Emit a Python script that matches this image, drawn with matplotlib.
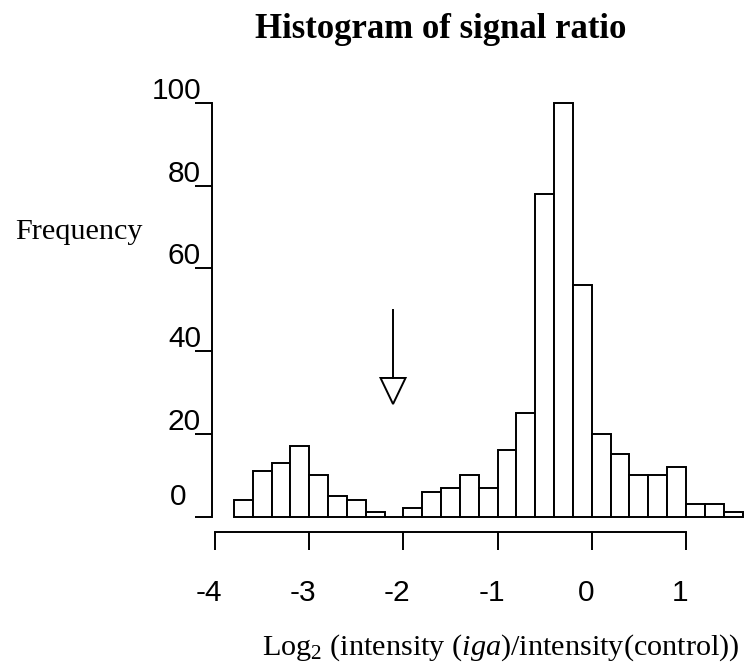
import numpy as np
import matplotlib
matplotlib.use("Agg")
import matplotlib.pyplot as plt

plt.rcParams['mathtext.fontset'] = 'custom'
plt.rcParams['mathtext.rm'] = 'Liberation Serif'
plt.rcParams['mathtext.it'] = 'Liberation Serif:italic'

# ---- data ----
bin_start = -3.8
bin_width = 0.2
counts = [4, 11, 13, 17, 10, 5, 4, 1, 0, 2, 6, 7, 10, 7, 16, 25, 78, 100, 56,
          20, 15, 10, 10, 12, 3, 3, 1]
x_ticks = [-4, -3, -2, -1, 0, 1]
y_ticks = [0, 20, 40, 60, 80, 100]
arrow_x = -2.11
arrow_top = 50
arrow_base = 33.5
arrow_tip = 27.2
title = "Histogram of signal ratio"
ylabel = "Frequency"
xlabel = r"Log$_2$ (intensity ($\mathit{iga}$)/intensity(control))"

edges = bin_start + bin_width * np.arange(len(counts) + 1)

W, H = 750, 670
fig = plt.figure(figsize=(W / 100, H / 100), dpi=100)

# pixel mapping
sx = 94.2      # px per x unit
x0px = 215     # px of x=-4
sy = 4.135     # px per count
y0px = 516.5   # px of y=0
xlim = (-4.2, 1.68)
ylim = (-12, 104)
left_px = x0px + (xlim[0] + 4) * sx
right_px = x0px + (xlim[1] + 4) * sx
bot_px = y0px - ylim[0] * sy
top_px = y0px - ylim[1] * sy
ax = fig.add_axes([left_px / W, 1 - bot_px / H, (right_px - left_px) / W, (bot_px - top_px) / H])
ax.set_xlim(*xlim)
ax.set_ylim(*ylim)

LW = 1.4
ax.bar(edges[:-1], counts, width=bin_width, align='edge', facecolor='white',
       edgecolor='black', linewidth=LW)

for s in ['top', 'right']:
    ax.spines[s].set_visible(False)
yspine_x = -4 + (212 - x0px) / sx
xspine_y = (y0px - 532) / sy
ax.spines['left'].set_position(('data', yspine_x))
ax.spines['left'].set_bounds(0, 100)
ax.spines['bottom'].set_position(('data', xspine_y))
ax.spines['bottom'].set_bounds(-4, 1)
for s in ['left', 'bottom']:
    ax.spines[s].set_linewidth(LW)

ax.set_xticks(x_ticks)
ax.set_yticks(y_ticks)
ax.tick_params(axis='x', direction='out', length=13, width=LW, labelbottom=False)
ax.tick_params(axis='y', direction='out', length=12.2, width=LW, labelleft=False)

tick_font = dict(family='Liberation Sans', fontsize=21.5)
for xv in x_ticks:
    ax.annotate(str(xv), xy=(xv, xspine_y), xytext=(-4.3, -34), textcoords='offset points',
                ha='center', va='top', **tick_font)
for yv in y_ticks:
    if yv == 0:
        ax.annotate(str(yv), xy=(yspine_x, yv), xytext=(-24.5, 8.5), textcoords='offset points',
                    ha='center', va='baseline', **tick_font)
    else:
        ax.annotate(str(yv), xy=(yspine_x, yv), xytext=(-8, 3), textcoords='offset points',
                    ha='right', va='baseline', **tick_font)

# arrow
hw = 12.5 / sx
ax.plot([arrow_x, arrow_x], [arrow_top, arrow_base], color='black', lw=LW)
ax.fill([arrow_x - hw, arrow_x + hw, arrow_x], [arrow_base, arrow_base, arrow_tip],
        facecolor='white', edgecolor='black', lw=LW)

fig.text(441 / W, 1 - 29 / H, title, ha='center', va='center', family='Liberation Serif',
         fontweight='bold', fontsize=25)
fig.text(15 / W, 1 - 232 / H, ylabel, ha='left', va='center', family='Liberation Serif',
         fontsize=21.8)
fig.text(501 / W, 1 - 648 / H, xlabel, ha='center', va='center', family='Liberation Serif',
         fontsize=21.8)

fig.savefig("out.png", dpi=100)
